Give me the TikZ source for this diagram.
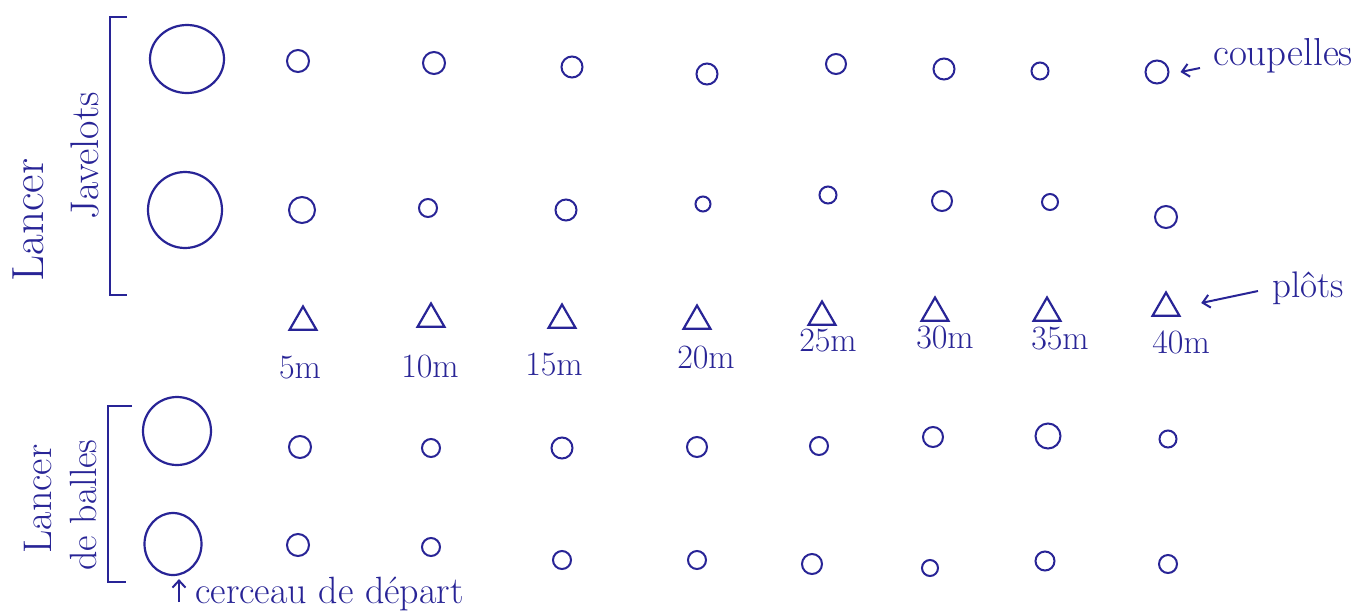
\documentclass[tikz,border=0pt]{standalone}
\usepackage{fontspec}
\usetikzlibrary{shapes.geometric,arrows.meta}
\definecolor{ink}{RGB}{40,36,150}
\newcommand{\fsz}[1]{\fontsize{#1}{#1}\selectfont}
\begin{document}
\begin{tikzpicture}[x=1pt,y=-1pt,
  every node/.style={text=ink},
  hoop/.style={draw=ink, line width=2.2pt, ellipse, inner sep=0pt},
  cup/.style={draw=ink, line width=2pt, circle, inner sep=0pt, minimum size=#1},
  cup/.default=21pt,
  plotmark/.style={draw=ink, line width=2.2pt, regular polygon, regular polygon sides=3, inner sep=0pt, minimum size=31pt},
  dist/.style={font=\fsz{34}, inner sep=0pt},
  side/.style={rotate=90, inner sep=0pt},
  note/.style={inner sep=0pt},
  bracket/.style={draw=ink, line width=2.2pt},
  arr/.style={draw=ink, line width=2pt, -{Straight Barb[length=7pt,width=13pt]}}
]
\fill[white] (0,0) rectangle (1364,611);
\useasboundingbox (0,0) rectangle (1364,611);

% brackets
\draw[bracket] (127,17) -- (110,17) -- (110,295) -- (127,295);
\draw[bracket] (132,406) -- (108,406) -- (108,582) -- (126,582);

% side labels
\node[side, font=\fsz{45}] (lab1) at (28,220) {Lancer};
\node[side, font=\fsz{40}] (lab2) at (85,156) {Javelots};
\node[side, font=\fsz{40}] (lab3) at (38,499) {Lancer};
\node[side, font=\fsz{38}] (lab4) at (83,505) {de balles};

% hoops (cerceaux)
\node[hoop, minimum width=74pt, minimum height=68pt] (h1) at (187,59) {};
\node[hoop, minimum width=74pt, minimum height=76pt] (h2) at (185,210) {};
\node[hoop, minimum width=68pt, minimum height=68pt] (h3) at (177,431) {};
\node[hoop, minimum width=57pt, minimum height=62pt] (h4) at (173,544) {};

% row 1
\node[cup=22pt] (c11) at (298,61) {};
\node[cup=22pt] (c12) at (434,63) {};
\node[cup=21pt] (c13) at (572,67) {};
\node[cup=21pt] (c14) at (707,74) {};
\node[cup=20pt] (c15) at (836,64) {};
\node[cup=21pt] (c16) at (944,69) {};
\node[cup=17pt] (c17) at (1040,71) {};
\node[cup=23pt] (c18) at (1157,72) {};
% row 2
\node[cup=26pt] (c21) at (302,210) {};
\node[cup=18pt] (c22) at (428,208) {};
\node[cup=21pt] (c23) at (566,210) {};
\node[cup=15pt] (c24) at (703,204) {};
\node[cup=17pt] (c25) at (828,195) {};
\node[cup=20pt] (c26) at (942,201) {};
\node[cup=16pt] (c27) at (1050,202) {};
\node[cup=22pt] (c28) at (1166,217) {};
% row 3
\node[cup=22pt] (c31) at (300,447) {};
\node[cup=18pt] (c32) at (431,448) {};
\node[cup=21pt] (c33) at (562,448) {};
\node[cup=20pt] (c34) at (697,447) {};
\node[cup=18pt] (c35) at (819,446) {};
\node[cup=20pt] (c36) at (933,437) {};
\node[cup=25pt] (c37) at (1048,436) {};
\node[cup=17pt] (c38) at (1168,439) {};
% row 4
\node[cup=22pt] (c41) at (298,545) {};
\node[cup=18pt] (c42) at (431,547) {};
\node[cup=18pt] (c43) at (562,560) {};
\node[cup=18pt] (c44) at (697,560) {};
\node[cup=20pt] (c45) at (812,564) {};
\node[cup=16pt] (c46) at (930,568) {};
\node[cup=19pt] (c47) at (1045,561) {};
\node[cup=18pt] (c48) at (1168,564) {};

% plots (triangles) and distances
\node[plotmark] (t1) at (303,322) {};
\node[plotmark] (t2) at (431,319) {};
\node[plotmark] (t3) at (562,320) {};
\node[plotmark] (t4) at (697,321) {};
\node[plotmark] (t5) at (822,317) {};
\node[plotmark] (t6) at (935,313) {};
\node[plotmark] (t7) at (1047,313) {};
\node[plotmark] (t8) at (1166,308) {};
\node[dist] (d1) at (300,368) {5m};
\node[dist] (d2) at (430,367) {10m};
\node[dist] (d3) at (554,365) {15m};
\node[dist] (d4) at (706,358) {20m};
\node[dist] (d5) at (828,341) {25m};
\node[dist] (d6) at (945,338) {30m};
\node[dist] (d7) at (1060,339) {35m};
\node[dist] (d8) at (1181,342) {40m};

% annotations
\node[note, font=\fsz{39}, anchor=base west] (coup) at (1213,65) {coupelles};
\node[note, font=\fsz{37}, anchor=base west] (plots) at (1272,297) {plôts};
\node[note, font=\fsz{38}, anchor=base west] (cerc) at (195,603) {cerceau de départ};

\draw[arr] ([shift={(-13,3)}]coup.base west) -- ([shift={(11,0)}]c18.east);
\draw[arr] ([shift={(-14,-6)}]plots.base west) -- ([shift={(25,-5)}]t8.east);
\draw[arr] ([shift={(-16,-1)}]cerc.base west) -- ([shift={(6,3)}]h4.south);
\end{tikzpicture}
\end{document}
